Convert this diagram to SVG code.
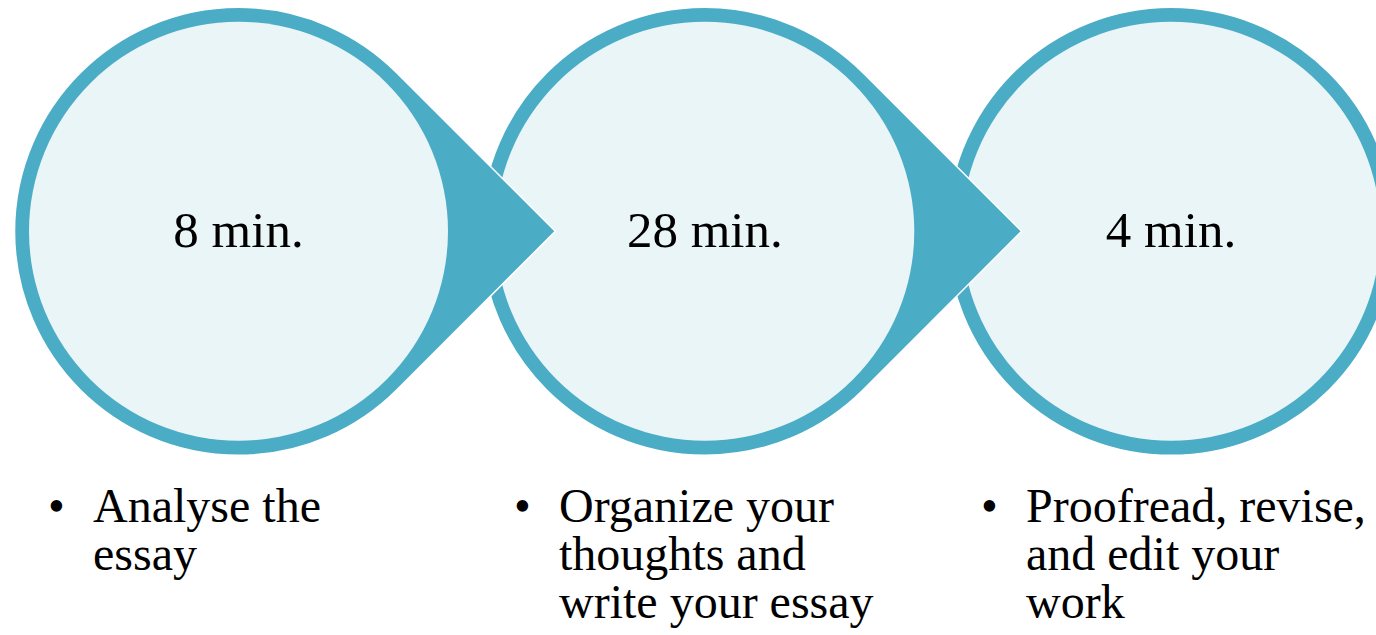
<svg xmlns="http://www.w3.org/2000/svg" width="1376" height="635" viewBox="0 0 1376 635">
  <style>
    .drop { fill: #4BACC6; stroke: #FFFFFF; stroke-width: 1.5; stroke-linejoin: miter; }
    .inner { fill: #EAF5F8; }
    .title { font-family: "Liberation Serif", "Times New Roman", serif; font-size: 51px; fill: #000000; text-anchor: middle; }
    .body { font-family: "Liberation Serif", "Times New Roman", serif; font-size: 48px; fill: #000000; }
  </style>
  <rect x="0" y="0" width="1376" height="635" fill="#FFFFFF"/>

  <g id="step3">
    <circle class="drop" cx="1171" cy="231.3" r="224"/>
    <circle class="inner" cx="1171" cy="231.3" r="209.5"/>
    <text class="title" x="1171" y="247">4 min.</text>
  </g>

  <g id="step2">
    <path class="drop" d="M1021.6,231.3 L863.2,72.9 A224,224 0 1 0 863.2,389.7 Z"/>
    <circle class="inner" cx="704.8" cy="231.3" r="209.5"/>
    <text class="title" x="704.8" y="247">28 min.</text>
  </g>

  <g id="step1">
    <path class="drop" d="M555.3,231.3 L396.9,72.9 A224,224 0 1 0 396.9,389.7 Z"/>
    <circle class="inner" cx="238.5" cy="231.3" r="209.5"/>
    <text class="title" x="238.5" y="247">8 min.</text>
  </g>

  <g id="desc1">
    <text class="body" x="48" y="522">•</text>
    <text class="body" x="93" y="522">Analyse the</text>
    <text class="body" x="93" y="570">essay</text>
  </g>

  <g id="desc2">
    <text class="body" x="514" y="522">•</text>
    <text class="body" x="559" y="522">Organize your</text>
    <text class="body" x="559" y="570">thoughts and</text>
    <text class="body" x="559" y="618">write your essay</text>
  </g>

  <g id="desc3">
    <text class="body" x="981" y="522">•</text>
    <text class="body" x="1026" y="522">Proofread, revise,</text>
    <text class="body" x="1026" y="570">and edit your</text>
    <text class="body" x="1026" y="618">work</text>
  </g>
</svg>
